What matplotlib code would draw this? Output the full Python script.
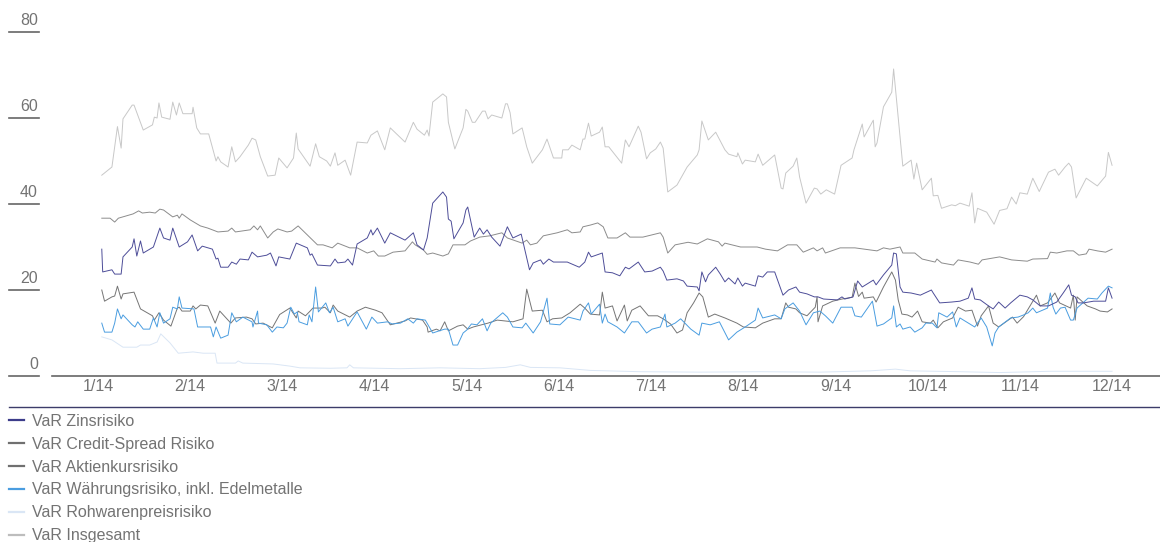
import matplotlib
matplotlib.use("Agg")
import matplotlib.pyplot as plt
import matplotlib.transforms as mtransforms
from matplotlib.lines import Line2D

plt.rcParams['font.family'] = ['Liberation Sans', 'DejaVu Sans']

# x positions are in month units (1 = 1/14 ... 12 = 12/14)
month_labels = ['1/14', '2/14', '3/14', '4/14', '5/14', '6/14',
                '7/14', '8/14', '9/14', '10/14', '11/14', '12/14']
y_ticks = [0, 20, 40, 60, 80]

t_total = [1.04, 1.15, 1.21, 1.25, 1.27, 1.37, 1.39, 1.49, 1.59, 1.61, 1.64, 1.66, 1.69, 1.78, 1.81,
           1.85, 1.88, 1.92, 2.02, 2.03, 2.07, 2.11, 2.20, 2.28, 2.30, 2.33, 2.41, 2.45, 2.49, 2.54,
           2.63, 2.67, 2.71, 2.76, 2.84, 2.92, 2.96, 3.05, 3.12, 3.15, 3.17, 3.30, 3.36, 3.40, 3.48,
           3.52, 3.57, 3.60, 3.68, 3.74, 3.81, 3.92, 3.96, 4.03, 4.11, 4.17, 4.33, 4.42, 4.46, 4.54,
           4.57, 4.59, 4.63, 4.74, 4.78, 4.80, 4.87, 4.96, 4.99, 5.01, 5.06, 5.09, 5.17, 5.20, 5.23,
           5.27, 5.38, 5.42, 5.44, 5.47, 5.50, 5.60, 5.65, 5.71, 5.82, 5.87, 5.94, 6.03, 6.04, 6.10,
           6.14, 6.23, 6.26, 6.28, 6.32, 6.35, 6.44, 6.47, 6.50, 6.54, 6.68, 6.72, 6.76, 6.86, 6.89,
           6.95, 6.99, 7.05, 7.10, 7.13, 7.18, 7.28, 7.39, 7.50, 7.52, 7.55, 7.62, 7.70, 7.80, 7.84,
           7.93, 7.94, 7.99, 8.02, 8.13, 8.16, 8.21, 8.34, 8.41, 8.43, 8.46, 8.54, 8.58, 8.61, 8.68,
           8.77, 8.80, 8.84, 8.90, 8.99, 9.06, 9.18, 9.20, 9.29, 9.31, 9.41, 9.43, 9.45, 9.52, 9.61,
           9.63, 9.73, 9.82, 9.85, 9.88, 9.94, 10.04, 10.06, 10.11, 10.15, 10.26, 10.30, 10.35, 10.45,
           10.48, 10.51, 10.54, 10.64, 10.72, 10.78, 10.86, 10.91, 10.96, 11.00, 11.08, 11.14, 11.21,
           11.31, 11.38, 11.42, 11.49, 11.53, 11.56, 11.61, 11.72, 11.84, 11.93, 11.96, 12.00]
var_total = [46.7, 48.6, 58.0, 53.0, 59.8, 63.0, 63.0, 57.2, 58.4, 60.2, 60.0, 63.5, 60.2, 59.7, 63.7,
             60.7, 63.5, 61.0, 61.0, 62.5, 57.7, 56.3, 56.3, 50.0, 51.0, 49.8, 48.6, 53.3, 49.8, 51.0,
             53.7, 55.3, 54.9, 51.0, 46.5, 46.7, 50.7, 48.4, 50.7, 56.5, 52.8, 48.8, 54.0, 51.0, 50.0,
             48.8, 51.9, 49.0, 50.2, 46.7, 54.4, 54.2, 56.0, 57.0, 52.6, 57.7, 54.4, 59.0, 57.4, 56.0,
             57.2, 55.8, 63.7, 65.6, 64.9, 59.0, 52.8, 57.7, 62.0, 61.6, 59.0, 59.0, 61.6, 61.6, 59.8,
             60.7, 60.0, 63.3, 63.3, 61.2, 56.3, 57.7, 53.3, 49.5, 52.6, 55.1, 50.7, 50.7, 52.6, 52.6,
             53.7, 52.6, 55.1, 55.1, 58.8, 55.8, 56.7, 57.9, 53.3, 53.3, 49.5, 54.9, 53.3, 58.1, 56.7,
             50.5, 51.9, 52.8, 54.4, 53.0, 42.8, 44.4, 48.6, 51.4, 52.6, 59.3, 54.9, 56.7, 52.6, 51.6,
             51.0, 51.9, 49.3, 50.2, 49.8, 51.6, 49.0, 51.4, 43.7, 43.5, 47.2, 48.8, 50.7, 46.3, 40.2,
             43.7, 43.5, 42.3, 43.3, 42.3, 49.0, 50.7, 52.6, 58.6, 55.6, 59.5, 53.3, 54.2, 62.6, 66.0,
             71.4, 48.8, 50.2, 45.8, 49.5, 43.3, 46.0, 41.9, 42.0, 39.0, 39.8, 39.6, 40.2, 39.5,
             42.6, 35.6, 39.0, 38.1, 35.3, 38.5, 38.9, 41.6, 40.0, 42.6, 42.3, 46.0, 42.9,
             47.4, 48.1, 46.7, 48.6, 49.5, 48.6, 41.4, 46.0, 44.2, 46.5, 52.0, 49.0]

t_credit = [1.04, 1.13, 1.18, 1.22, 1.38, 1.44, 1.48, 1.56, 1.62, 1.67, 1.71, 1.81, 1.86, 1.88, 1.91,
            2.00, 2.11, 2.19, 2.30, 2.41, 2.45, 2.49, 2.65, 2.69, 2.73, 2.76, 2.84, 2.90, 2.95, 3.05,
            3.10, 3.17, 3.38, 3.44, 3.54, 3.60, 3.73, 3.81, 3.92, 3.99, 4.04, 4.11, 4.20, 4.33, 4.41,
            4.44, 4.53, 4.57, 4.63, 4.74, 4.80, 4.85, 4.98, 5.04, 5.14, 5.25, 5.38, 5.44, 5.60, 5.65,
            5.69, 5.76, 5.83, 5.98, 6.09, 6.14, 6.23, 6.26, 6.34, 6.42, 6.48, 6.53, 6.63, 6.72, 6.77,
            6.91, 7.10, 7.13, 7.18, 7.26, 7.35, 7.40, 7.50, 7.61, 7.73, 7.77, 7.80, 7.97, 8.15, 8.24,
            8.37, 8.48, 8.58, 8.65, 8.76, 8.80, 8.86, 8.89, 9.05, 9.21, 9.45, 9.52, 9.59, 9.70, 9.73,
            9.86, 9.94, 10.08, 10.10, 10.15, 10.28, 10.33, 10.46, 10.55, 10.59, 10.78, 10.91, 11.08,
            11.14, 11.30, 11.33, 11.40, 11.51, 11.58, 11.64, 11.72, 11.75, 11.84, 11.93, 12.00]
var_credit = [36.7, 36.7, 35.8, 36.7, 37.7, 38.4, 37.9, 38.1, 37.9, 38.8, 38.6, 37.0, 37.4, 36.7, 37.7,
              36.3, 34.9, 34.4, 33.5, 33.7, 34.4, 33.5, 34.0, 34.9, 34.0, 34.9, 32.1, 33.5, 34.2, 33.5,
              33.7, 34.9, 30.5, 30.5, 29.8, 30.9, 29.8, 29.8, 28.6, 29.1, 27.9, 27.9, 28.8, 29.1, 31.2,
              30.5, 29.3, 28.3, 28.6, 27.9, 28.4, 30.5, 30.5, 31.4, 32.3, 32.6, 33.3, 32.1, 30.9, 31.6,
              30.5, 30.9, 32.6, 33.3, 34.0, 33.3, 33.5, 34.7, 35.1, 35.6, 34.7, 32.1, 32.1, 33.3, 32.3,
              32.3, 33.3, 32.3, 28.6, 30.5, 30.9, 31.1, 30.7, 31.9, 31.2, 30.2, 30.9, 30.0, 30.0, 29.5,
              29.1, 30.5, 30.5, 28.8, 29.8, 29.1, 29.8, 28.6, 29.8, 29.8, 29.1, 29.8, 29.5, 30.0, 28.6,
              28.6, 27.2, 26.5, 27.2, 26.3, 25.8, 27.0, 26.5, 26.0, 27.0, 27.7, 27.0, 26.7,
              27.2, 27.3, 28.8, 28.6, 29.1, 29.1, 28.1, 28.4, 29.5, 29.1, 28.8, 29.5]

t_zins = [1.04, 1.05, 1.15, 1.18, 1.25, 1.27, 1.37, 1.39, 1.42, 1.46, 1.49, 1.60, 1.67, 1.71, 1.78,
          1.81, 1.88, 1.97, 2.02, 2.08, 2.13, 2.24, 2.28, 2.30, 2.33, 2.41, 2.45, 2.50, 2.54, 2.63,
          2.67, 2.73, 2.83, 2.87, 2.93, 2.96, 3.08, 3.15, 3.27, 3.30, 3.32, 3.38, 3.52, 3.57, 3.60,
          3.68, 3.71, 3.76, 3.81, 3.92, 3.96, 3.98, 4.03, 4.11, 4.17, 4.33, 4.42, 4.46, 4.53, 4.57,
          4.63, 4.74, 4.78, 4.80, 4.83, 4.86, 4.96, 4.99, 5.01, 5.08, 5.14, 5.18, 5.22, 5.27, 5.36,
          5.44, 5.50, 5.59, 5.68, 5.72, 5.80, 5.83, 5.89, 5.94, 6.09, 6.22, 6.28, 6.32, 6.35, 6.47,
          6.50, 6.58, 6.66, 6.72, 6.76, 6.86, 6.93, 7.01, 7.10, 7.13, 7.17, 7.28, 7.35, 7.39, 7.50,
          7.52, 7.55, 7.59, 7.62, 7.70, 7.75, 7.80, 7.84, 7.91, 7.94, 7.99, 8.02, 8.13, 8.16, 8.21,
          8.26, 8.34, 8.43, 8.49, 8.57, 8.61, 8.69, 8.77, 8.81, 8.87, 9.02, 9.07, 9.10, 9.19, 9.24,
          9.29, 9.41, 9.44, 9.52, 9.61, 9.63, 9.66, 9.70, 9.73, 9.82, 9.92, 10.04, 10.06, 10.13,
          10.26, 10.35, 10.44, 10.48, 10.51, 10.57, 10.66, 10.71, 10.77, 10.84, 10.90, 11.00, 11.08,
          11.14, 11.22, 11.31, 11.40, 11.47, 11.53, 11.56, 11.60, 11.63, 11.69, 11.80, 11.93, 11.96,
          12.00]
var_zins = [29.5, 24.2, 24.7, 23.7, 23.7, 27.7, 30.0, 31.9, 27.9, 31.4, 28.6, 30.0, 34.4, 32.1, 31.6,
            34.4, 30.0, 31.2, 32.8, 29.1, 30.2, 29.5, 27.2, 27.4, 25.3, 25.3, 26.5, 26.0, 27.2, 27.0,
            28.8, 27.7, 28.1, 28.6, 25.6, 27.7, 27.2, 30.9, 29.8, 28.1, 28.4, 25.8, 25.6, 27.2, 26.3,
            26.5, 27.2, 25.8, 30.7, 32.1, 34.0, 32.8, 34.4, 30.9, 33.3, 31.6, 33.3, 30.5, 29.3, 32.1,
            40.2, 42.8, 41.6, 36.5, 36.0, 31.9, 35.6, 38.6, 39.3, 32.3, 34.4, 33.0, 34.0, 32.3, 30.2,
            34.7, 32.1, 33.0, 24.7, 26.3, 27.0, 26.0, 27.2, 26.5, 26.5, 25.3, 26.5, 28.8, 27.7, 28.6,
            24.2, 24.0, 23.3, 25.3, 24.9, 26.5, 24.2, 24.4, 25.3, 24.4, 22.3, 22.6, 22.1, 20.9, 20.7,
            19.8, 24.2, 21.9, 23.5, 25.3, 23.7, 21.9, 22.8, 21.4, 22.8, 20.9, 21.6, 20.9, 23.3, 23.0,
            24.2, 24.2, 18.8, 20.0, 20.7, 19.5, 19.1, 18.4, 18.4, 17.9, 17.7, 18.4, 17.9, 18.4, 22.1,
            20.7, 22.3, 21.2, 23.5, 25.8, 28.6, 28.4, 20.7, 19.5, 19.3, 18.8, 20.0, 19.3, 17.0,
            17.2, 17.4, 18.1, 20.5, 17.9, 17.7, 16.3, 15.6, 17.2, 15.8, 17.0, 18.8, 18.4,
            17.7, 16.3, 16.3, 17.2, 19.3, 21.2, 18.8, 18.4, 17.0, 17.0, 17.4, 17.4, 20.5,
            18.1]

t_aktien = [1.04, 1.07, 1.15, 1.18, 1.21, 1.25, 1.27, 1.39, 1.46, 1.59, 1.61, 1.66, 1.71, 1.79, 1.86,
            1.88, 1.91, 2.00, 2.03, 2.06, 2.11, 2.19, 2.27, 2.32, 2.44, 2.49, 2.61, 2.67, 2.71, 2.79,
            2.89, 2.97, 3.08, 3.15, 3.17, 3.25, 3.30, 3.33, 3.43, 3.46, 3.52, 3.55, 3.60, 3.73, 3.81,
            3.90, 4.01, 4.08, 4.17, 4.33, 4.39, 4.52, 4.57, 4.58, 4.67, 4.71, 4.76, 4.80, 4.90, 4.96,
            5.01, 5.07, 5.23, 5.33, 5.50, 5.61, 5.65, 5.71, 5.82, 5.87, 5.93, 6.03, 6.12, 6.23, 6.28,
            6.34, 6.44, 6.47, 6.50, 6.58, 6.63, 6.71, 6.74, 6.79, 6.88, 6.97, 7.07, 7.13, 7.21, 7.28,
            7.34, 7.39, 7.46, 7.52, 7.56, 7.62, 7.69, 7.80, 7.93, 8.00, 8.13, 8.21, 8.34, 8.41, 8.46,
            8.49, 8.57, 8.61, 8.69, 8.78, 8.80, 8.81, 8.86, 8.97, 9.07, 9.18, 9.21, 9.25, 9.29, 9.31,
            9.41, 9.44, 9.52, 9.61, 9.65, 9.68, 9.72, 9.78, 9.83, 9.89, 9.94, 10.03, 10.06, 10.11,
            10.17, 10.27, 10.33, 10.41, 10.48, 10.54, 10.58, 10.66, 10.71, 10.77, 10.92, 10.97, 11.04,
            11.13, 11.18, 11.22, 11.30, 11.38, 11.43, 11.55, 11.58, 11.60, 11.62, 11.73, 11.82, 11.87,
            11.95, 12.00]
var_aktien = [20.0, 17.4, 18.4, 18.6, 20.9, 17.9, 19.1, 19.5, 15.6, 14.0, 13.0, 14.7, 13.0, 11.6, 15.8,
              16.0, 15.1, 15.1, 16.3, 15.6, 16.5, 16.3, 12.3, 15.1, 12.3, 13.5, 13.7, 13.3, 12.1, 12.3,
              11.2, 14.3, 15.8, 13.5, 15.1, 14.0, 15.1, 15.8, 15.8, 16.0, 14.7, 16.5, 15.1, 13.7, 15.1,
              16.0, 15.3, 14.7, 11.9, 12.8, 13.5, 13.0, 11.4, 10.2, 10.9, 10.5, 12.6, 10.5, 11.6, 11.9,
              10.9, 11.4, 12.3, 13.0, 12.6, 13.3, 20.2, 15.1, 15.3, 12.6, 13.3, 13.5, 14.7, 16.7, 15.8,
              14.4, 14.2, 19.5, 15.8, 16.3, 12.8, 16.5, 12.8, 15.3, 16.3, 14.0, 14.0, 13.3, 12.1, 10.0,
              10.7, 14.7, 17.0, 19.3, 18.4, 13.7, 14.4, 13.5, 12.3, 11.4, 11.2, 12.3, 13.3, 13.3, 17.0,
              16.0, 15.6, 14.7, 14.0, 16.0, 18.4, 12.6, 16.3, 17.4, 17.9, 18.3, 21.6, 18.5, 19.5, 18.1,
              18.4, 17.2, 20.7, 24.2, 22.3, 17.7, 14.4, 14.2, 13.7, 15.1, 12.6, 12.3, 13.0, 11.2,
              12.6, 13.5, 16.0, 15.1, 15.3, 11.6, 14.0, 16.3, 12.3, 11.4, 13.7, 12.3, 13.8,
              17.0, 18.8, 16.3, 17.0, 19.3, 17.0, 15.8, 18.8, 13.0, 18.4, 16.3, 15.6, 15.1,
              14.9, 15.6]

t_waehrung = [1.04, 1.07, 1.15, 1.18, 1.21, 1.25, 1.27, 1.37, 1.40, 1.43, 1.49, 1.56, 1.60, 1.64, 1.67,
              1.71, 1.78, 1.81, 1.86, 1.88, 1.91, 2.04, 2.08, 2.22, 2.25, 2.28, 2.33, 2.41, 2.45, 2.50,
              2.57, 2.67, 2.68, 2.73, 2.74, 2.83, 2.89, 2.94, 3.01, 3.05, 3.09, 3.13, 3.16, 3.18, 3.27,
              3.29, 3.32, 3.36, 3.39, 3.47, 3.51, 3.55, 3.60, 3.68, 3.71, 3.81, 3.91, 3.97, 4.03, 4.14,
              4.19, 4.28, 4.36, 4.42, 4.46, 4.55, 4.63, 4.70, 4.76, 4.80, 4.85, 4.90, 4.96, 5.00, 5.05,
              5.11, 5.17, 5.22, 5.26, 5.39, 5.44, 5.50, 5.60, 5.64, 5.72, 5.80, 5.87, 5.90, 6.01, 6.10,
              6.23, 6.26, 6.32, 6.35, 6.44, 6.47, 6.50, 6.53, 6.63, 6.71, 6.79, 6.86, 6.95, 7.01, 7.10,
              7.15, 7.17, 7.26, 7.32, 7.43, 7.52, 7.55, 7.64, 7.74, 7.84, 7.93, 8.02, 8.13, 8.16, 8.21,
              8.34, 8.41, 8.45, 8.54, 8.61, 8.68, 8.76, 8.83, 8.89, 8.97, 9.06, 9.18, 9.21, 9.28, 9.40,
              9.45, 9.52, 9.61, 9.63, 9.66, 9.70, 9.73, 9.81, 9.86, 9.94, 9.98, 10.05, 10.10, 10.12,
              10.21, 10.27, 10.31, 10.35, 10.51, 10.58, 10.64, 10.70, 10.73, 10.77, 10.90, 10.98, 11.04,
              11.09, 11.14, 11.18, 11.30, 11.33, 11.36, 11.39, 11.44, 11.49, 11.55, 11.58, 11.62, 11.74,
              11.84, 11.89, 11.96, 12.00]
var_waehrung = [12.3, 10.2, 10.2, 12.3, 15.6, 13.3, 14.2, 11.9, 11.4, 12.6, 10.9, 10.9, 13.5, 11.4, 14.7,
                12.3, 13.3, 16.0, 15.6, 18.4, 15.8, 15.6, 11.4, 11.4, 9.1, 11.4, 8.8, 9.5, 14.7, 12.6,
                13.7, 12.6, 11.4, 15.1, 12.3, 11.9, 10.2, 11.4, 11.2, 12.3, 16.0, 14.4, 14.9, 12.6, 11.9,
                14.2, 12.6, 20.7, 14.9, 17.0, 14.7, 16.0, 12.6, 13.3, 11.6, 14.9, 10.9, 13.7, 12.3, 12.6,
                12.1, 12.3, 13.3, 12.3, 13.3, 13.0, 10.0, 10.5, 10.9, 10.9, 7.2, 7.2, 10.0, 10.7, 12.1,
                11.9, 13.3, 10.5, 12.3, 14.7, 13.7, 11.4, 11.2, 12.3, 10.0, 12.6, 18.1, 12.1, 11.9, 13.7,
                13.0, 15.1, 17.0, 14.4, 16.7, 12.3, 14.4, 12.6, 11.4, 10.0, 12.6, 12.6, 10.0, 10.9, 11.4,
                14.4, 11.4, 12.3, 13.3, 10.9, 9.5, 12.3, 11.9, 12.6, 8.4, 10.2, 11.4, 13.0, 15.8, 13.5,
                14.2, 13.3, 15.6, 17.0, 15.1, 11.9, 14.7, 15.1, 14.0, 12.3, 16.0, 16.0, 14.0, 13.7, 17.4,
                11.6, 12.1, 13.5, 16.3, 11.4, 12.1, 10.9, 11.4, 10.2, 11.2, 12.3, 12.3, 11.2, 14.7,
                13.7, 14.9, 11.4, 13.5, 11.4, 13.5, 11.4, 7.0, 10.0, 11.4, 13.5, 13.7, 14.2,
                14.7, 15.8, 14.7, 15.8, 19.3, 16.0, 14.4, 15.8, 16.0, 13.0, 13.0, 15.8, 18.1,
                17.9, 19.3, 20.9, 20.5]

t_rohwaren = [1.04, 1.15, 1.27, 1.42, 1.46, 1.56, 1.64, 1.68, 1.78, 1.87, 2.03, 2.14, 2.27, 2.29, 2.49,
              2.52, 2.57, 2.90, 3.08, 3.19, 3.52, 3.70, 3.73, 3.77, 4.28, 4.71, 5.14, 5.42, 5.58, 5.69,
              6.01, 6.34, 6.88, 7.53, 8.18, 8.83, 9.38, 9.65, 9.81, 10.35, 10.78, 11.33, 12.00]
var_rohwaren = [9.1, 8.4, 6.7, 6.7, 7.2, 7.2, 7.9, 9.8, 7.7, 5.3, 5.6, 5.3, 5.3, 3.0, 3.0,
                3.5, 3.0, 2.8, 2.3, 1.9, 1.8, 1.9, 2.6, 1.9, 1.7, 1.9, 1.7, 2.0, 2.6, 2.0,
                1.9, 1.3, 1.0, 0.9, 1.0, 0.9, 1.2, 1.6, 1.2, 1.0, 0.8, 1.1, 1.1]

text_grey = '#737373'
W, H = 1160, 542
fig = plt.figure(figsize=(W / 100, H / 100), dpi=100)
ax = fig.add_axes([52 / W, 1 - 376 / H, 1 - 52 / W, (376 - 32) / H])

l_total, = ax.plot(t_total, var_total, color='#c8c8c8', lw=0.7)
l_roh, = ax.plot(t_rohwaren, var_rohwaren, color='#dae6f5', lw=0.7)
l_credit, = ax.plot(t_credit, var_credit, color='#8c8c8c', lw=0.7)
l_aktien, = ax.plot(t_aktien, var_aktien, color='#757575', lw=0.7)
l_wae, = ax.plot(t_waehrung, var_waehrung, color='#4a9de0', lw=0.7)
l_zins, = ax.plot(t_zins, var_zins, color='#4d4d98', lw=0.7)

ax.set_xlim(0.5, 12.52)
ax.set_ylim(0, 80)
for s in ['top', 'right', 'left']:
    ax.spines[s].set_visible(False)
ax.spines['bottom'].set_color('#666666')
ax.spines['bottom'].set_linewidth(1.2)
ax.set_yticks([])
ax.set_xticks(range(1, 13))
ax.set_xticklabels(month_labels)
ax.tick_params(axis='x', length=0, pad=2.5, labelsize=11.5, labelcolor=text_grey)

# y labels sit left of the plot, each above a short rule
trans = mtransforms.blended_transform_factory(fig.transFigure, ax.transData)
for v in y_ticks:
    ax.plot([9 / W, 39 / W], [v, v], transform=trans, color='#666666', lw=1.2, clip_on=False)
    ax.annotate(str(v), xy=(38 / W, v), xycoords=trans, xytext=(0, 3), textcoords='offset points',
                ha='right', va='bottom', fontsize=11.5, color=text_grey)

# rule above legend
fig.add_artist(Line2D([9 / W, 1.0], [1 - 407 / H, 1 - 407 / H], color='#3c3c6a', lw=1.0))

handles = [l_zins, l_credit, l_aktien, l_wae, l_roh, l_total]
labels = ['VaR Zinsrisiko', 'VaR Credit-Spread Risiko', 'VaR Aktienkursrisiko',
          'VaR Währungsrisiko, inkl. Edelmetalle', 'VaR Rohwarenpreisrisiko', 'VaR Insgesamt']
leg_colors = ['#3c3c8a', '#707070', '#707070', '#4a9de0', '#dae6f5', '#bdbdbd']
leg_handles = [Line2D([], [], color=c, lw=1.6) for c in leg_colors]
leg = fig.legend(leg_handles, labels, loc='upper left', bbox_to_anchor=(9 / W, 1 - 414 / H),
                 frameon=False, fontsize=11.5, handlelength=0.95, handletextpad=0.5,
                 labelspacing=0.49, borderpad=0, borderaxespad=0)
for t in leg.get_texts():
    t.set_color(text_grey)

fig.savefig('out.png', dpi=100)
